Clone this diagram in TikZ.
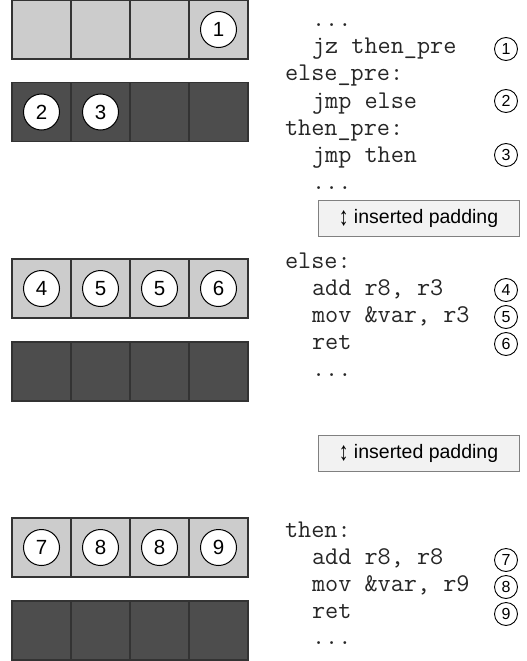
\documentclass[tikz,border=0pt]{standalone}
\usepackage{fontspec}
\setmainfont{Liberation Sans}
\definecolor{lightcell}{HTML}{CCCCCC}
\definecolor{darkcell}{HTML}{4D4D4D}
\definecolor{cellline}{HTML}{333333}
\definecolor{padfill}{HTML}{F2F2F2}
\definecolor{padline}{HTML}{808080}
\definecolor{codetext}{HTML}{262626}
\newcommand{\padarrow}{\raisebox{-0.12em}{\scalebox{1}[1.35]{↕}}}
\tikzset{
  cellbox/.style={draw=cellline, line width=1.1pt, minimum width=59pt, minimum height=59pt, inner sep=0pt, outer sep=0pt},
  lcell/.style={cellbox, fill=lightcell},
  dcell/.style={cellbox, fill=darkcell},
  bigcirc/.style={circle, draw=black, fill=white, line width=1pt, minimum size=36pt, inner sep=0pt, font=\fontsize{20.5}{20}\selectfont},
  smallcirc/.style={circle, draw=black, fill=white, line width=0.9pt, minimum size=23pt, inner sep=0pt, font=\fontsize{16}{15}\selectfont},
  code/.style={anchor=base west, inner sep=0pt, outer sep=0pt, text=codetext, font=\ttfamily\fontsize{25.5}{27}\selectfont},
  padbox/.style={draw=padline, fill=padfill, line width=0.8pt, minimum width=201pt, minimum height=36pt, inner sep=0pt, font=\fontsize{19.5}{20}\selectfont}
}
\begin{document}
\begin{tikzpicture}[x=1pt,y=-1pt]
\useasboundingbox (0,0) rectangle (527,661);
% memory rows
\foreach \r/\y/\s in {1/29.5/lcell, 2/112/dcell, 3/288.5/lcell, 4/371.5/dcell, 5/547.5/lcell, 6/630.5/dcell}{
  \foreach \c in {1,...,4}{
    \node[\s] (r\r-\c) at ({59*\c-17.5},\y) {};
  }
}
% numbered markers in cells
\node[bigcirc] (m1) at (r1-4) {1};
\node[bigcirc] (m2) at (r2-1) {2};
\node[bigcirc] (m3) at (r2-2) {3};
\node[bigcirc] (m4) at (r3-1) {4};
\node[bigcirc] (m5a) at (r3-2) {5};
\node[bigcirc] (m5b) at (r3-3) {5};
\node[bigcirc] (m6) at (r3-4) {6};
\node[bigcirc] (m7) at (r5-1) {7};
\node[bigcirc] (m8a) at (r5-2) {8};
\node[bigcirc] (m8b) at (r5-3) {8};
\node[bigcirc] (m9) at (r5-4) {9};
% code block 1
\node[code] (a1) at (312,27) {...};
\node[code] (a2) at (312,54) {jz then\_pre};
\node[code] (a3) at (285,81) {else\_pre:};
\node[code] (a4) at (312,108) {jmp else};
\node[code] (a5) at (285,135) {then\_pre:};
\node[code] (a6) at (312,162) {jmp then};
\node[code] (a7) at (312,189) {...};
\node[smallcirc] (c1) at (506,49) {1};
\node[smallcirc] (c2) at (506,101) {2};
\node[smallcirc] (c3) at (506,155) {3};
\node[padbox] (pad1) at (418.5,218) {\padarrow\ inserted padding};
% code block 2
\node[code] (b1) at (285,268) {else:};
\node[code] (b2) at (312,295) {add r8, r3};
\node[code] (b3) at (312,322) {mov \&var, r3};
\node[code] (b4) at (312,349) {ret};
\node[code] (b5) at (312,376) {...};
\node[smallcirc] (c4) at (506,290) {4};
\node[smallcirc] (c5) at (506,317) {5};
\node[smallcirc] (c6) at (506,344) {6};
\node[padbox] (pad2) at (418.5,453.5) {\padarrow\ inserted padding};
% code block 3
\node[code] (d1) at (285,537) {then:};
\node[code] (d2) at (312,564) {add r8, r8};
\node[code] (d3) at (312,591) {mov \&var, r9};
\node[code] (d4) at (312,618) {ret};
\node[code] (d5) at (312,644) {...};
\node[smallcirc] (c7) at (506,560) {7};
\node[smallcirc] (c8) at (506,587) {8};
\node[smallcirc] (c9) at (506,614) {9};
\end{tikzpicture}
\end{document}
